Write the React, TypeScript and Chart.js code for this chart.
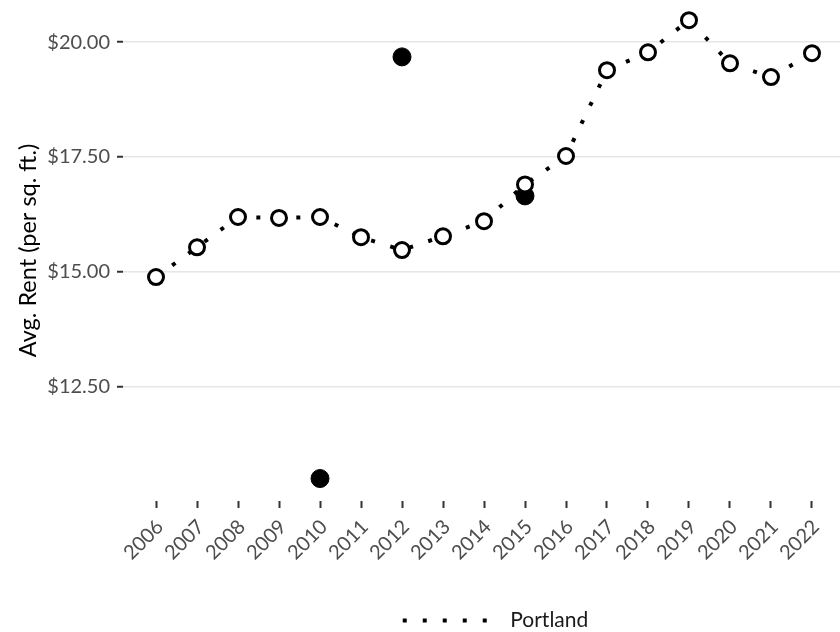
import React, { useEffect, useRef } from "react";
import { Chart, registerables } from "chart.js";

Chart.register(...registerables);

const years = [2006, 2007, 2008, 2009, 2010, 2011, 2012, 2013, 2014, 2015, 2016, 2017, 2018, 2019, 2020, 2021, 2022];
const portlandRent = [14.88, 15.53, 16.19, 16.17, 16.19, 15.75, 15.47, 15.77, 16.1, 16.9, 17.52, 19.39, 19.78, 20.48, 19.54, 19.24, 19.76];
const otherYears = [2010, 2012, 2015];
const otherRent = [10.49, 19.68, 16.65];
const yTicks = [12.5, 15, 17.5, 20];
const seriesName = "Portland";
const yTitle = "Avg. Rent (per sq. ft.)";

const FONT = "Lato, 'Noto Sans', sans-serif";

const legendShift = {
  id: "legendShift",
  afterLayout(chart: any) {
    const lg = chart.legend;
    if (!lg) return;
    lg.left += 14;
    lg.right += 14;
    lg.top += 9;
    lg.bottom += 9;
  },
};

export default function App() {
  const ref = useRef<HTMLCanvasElement | null>(null);

  useEffect(() => {
    if (!ref.current) return;
    const chart = new Chart(ref.current, {
      type: "line",
      plugins: [legendShift],
      data: {
        datasets: [
          {
            label: seriesName,
            data: years.map((x, i) => ({ x, y: portlandRent[i] })),
            borderColor: "#000000",
            borderWidth: 4,
            borderDash: [4, 16],
            borderCapStyle: "butt",
            backgroundColor: "#ffffff",
            pointRadius: 7.5,
            pointBorderWidth: 3,
            pointBackgroundColor: "#ffffff",
            pointBorderColor: "#000000",
            tension: 0,
          },
          {
            label: "other",
            data: otherYears.map((x, i) => ({ x, y: otherRent[i] })),
            showLine: false,
            borderColor: "#000000",
            backgroundColor: "#000000",
            pointRadius: 9,
            pointBorderWidth: 1,
            pointBackgroundColor: "#000000",
            pointBorderColor: "#000000",
          },
        ],
      },
      options: {
        animation: false,
        responsive: true,
        maintainAspectRatio: false,
        layout: { autoPadding: false, padding: { left: 0, right: 0, top: 0, bottom: 0 } },
        plugins: {
          tooltip: { enabled: false },
          legend: {
            display: true,
            position: "bottom",
            fullSize: false,
            labels: {
              usePointStyle: true,
              pointStyle: "line",
              pointStyleWidth: 97,
              color: "#1a1a1a",
              font: { family: FONT, size: 21 },
              padding: 10,
              generateLabels: () => [
                {
                  text: seriesName,
                  datasetIndex: 0,
                  hidden: false,
                  fillStyle: "#000000",
                  strokeStyle: "#000000",
                  fontColor: "#1a1a1a",
                  lineWidth: 4,
                  lineDash: [4, 16],
                  lineDashOffset: 0,
                  lineCap: "butt",
                  pointStyle: "line",
                  rotation: 0,
                },
              ],
            },
          },
        },
        scales: {
          x: {
            type: "linear",
            min: 2005.195,
            max: 2022.683,
            afterBuildTicks: (scale) => {
              scale.ticks = years.map((v) => ({ value: v }));
            },
            afterFit: (scale: any) => {
              scale.height = 90;
              scale.paddingLeft = 0;
              scale.paddingRight = 0;
            },
            border: { display: false },
            grid: {
              drawOnChartArea: false,
              drawTicks: true,
              tickLength: 7,
              tickWidth: 2,
              tickColor: "#333333",
            },
            ticks: {
              autoSkip: false,
              maxRotation: 45,
              minRotation: 45,
              padding: 7,
              labelOffset: 4,
              color: "#4d4d4d",
              font: { family: FONT, size: 20 },
              callback: (v) => String(v),
            },
          },
          y: {
            type: "linear",
            min: 10,
            max: 20.92,
            afterBuildTicks: (scale) => {
              scale.ticks = yTicks.map((v) => ({ value: v }));
            },
            afterFit: (scale: any) => {
              scale.width = 123;
              scale.paddingTop = 0;
              scale.paddingBottom = 0;
            },
            border: { display: false },
            grid: {
              color: "#e6e6e6",
              lineWidth: 1.5,
              drawTicks: true,
              tickLength: 6,
              tickWidth: 2,
              tickColor: "#333333",
            },
            ticks: {
              padding: 7,
              color: "#4d4d4d",
              font: { family: FONT, size: 20 },
              callback: (v) => "$" + Number(v).toFixed(2),
            },
            title: {
              display: true,
              text: yTitle,
              color: "#000000",
              font: { family: FONT, size: 23.5 },
              padding: { top: 14, bottom: 0 },
            },
          },
        },
      },
    });
    return () => chart.destroy();
  }, []);

  return (
    <div style={{ position: "fixed", left: 0, top: 0, width: 840, height: 632, background: "#ffffff" }}>
      <canvas ref={ref} />
    </div>
  );
}
